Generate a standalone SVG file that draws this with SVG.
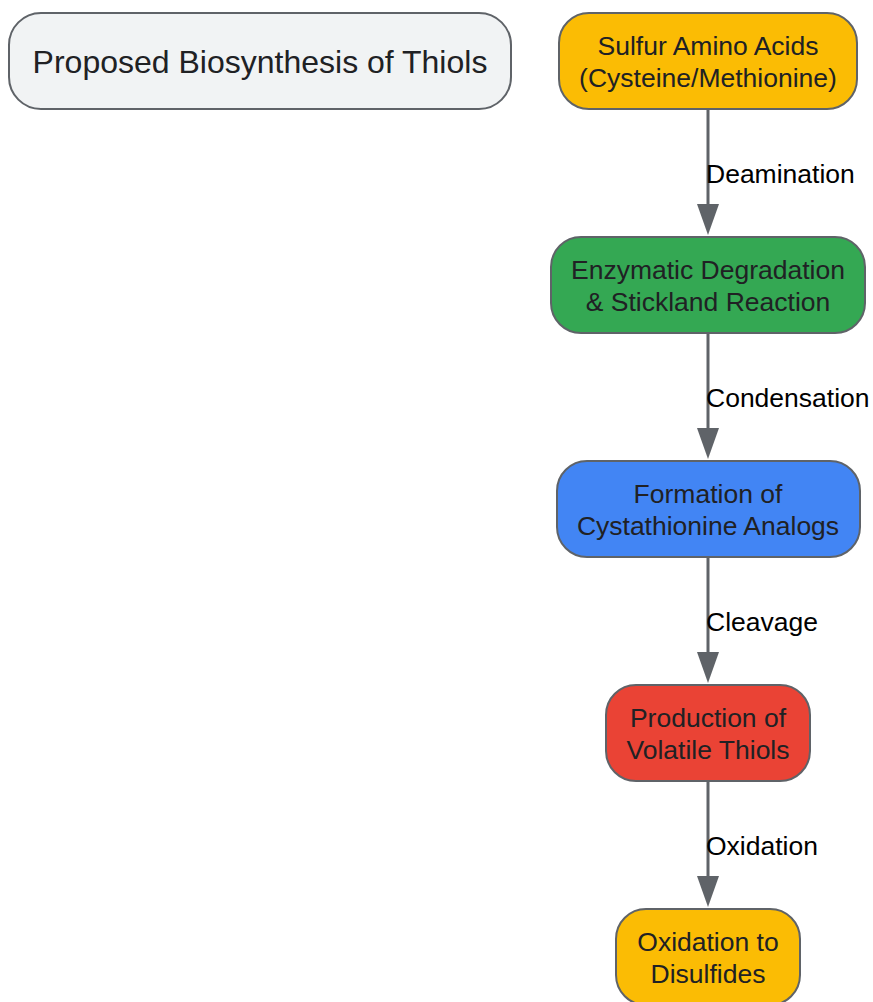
<svg xmlns="http://www.w3.org/2000/svg" width="873" height="1002" viewBox="0 0 873 1002">
<defs>
<style>
.n{stroke:#5f6368;stroke-width:2}
.t{font-family:"Liberation Sans",Arial,sans-serif;font-size:26.5px;fill:#202124;text-anchor:middle}
.l{font-family:"Liberation Sans",Arial,sans-serif;font-size:26.5px;fill:#000}
.c{stroke:#5f6368;stroke-width:3;fill:none}
.a{fill:#5f6368}
</style>
</defs>
<rect width="873" height="1002" fill="#fff"/>
<g id="title">
<rect class="n" x="9" y="13" width="502" height="96" rx="32" fill="#f1f3f4"/>
<text x="260" y="73" font-family="Liberation Sans,Arial,sans-serif" font-size="32" fill="#202124" text-anchor="middle">Proposed Biosynthesis of Thiols</text>
</g>
<g id="connectors">
<line class="c" x1="708" y1="110" x2="708" y2="205"/>
<path class="a" d="M697,204 L719,204 L708,235 Z"/>
<text class="l" x="706" y="183">Deamination</text>
<line class="c" x1="708" y1="334" x2="708" y2="429"/>
<path class="a" d="M697,428 L719,428 L708,459 Z"/>
<text class="l" x="706" y="407">Condensation</text>
<line class="c" x1="708" y1="558" x2="708" y2="653"/>
<path class="a" d="M697,652 L719,652 L708,683 Z"/>
<text class="l" x="706" y="631">Cleavage</text>
<line class="c" x1="708" y1="782" x2="708" y2="877"/>
<path class="a" d="M697,876 L719,876 L708,907 Z"/>
<text class="l" x="706" y="855">Oxidation</text>
</g>
<g id="n1">
<rect class="n" x="559" y="13" width="298" height="96" rx="30" fill="#fbbc04"/>
<text class="t" x="708" y="55">Sulfur Amino Acids</text>
<text class="t" x="708" y="87">(Cysteine/Methionine)</text>
</g>
<g id="n2">
<rect class="n" x="551" y="237" width="314" height="96" rx="30" fill="#34a853"/>
<text class="t" x="708" y="279">Enzymatic Degradation</text>
<text class="t" x="708" y="311">&amp; Stickland Reaction</text>
</g>
<g id="n3">
<rect class="n" x="557" y="461" width="303" height="96" rx="30" fill="#4285f4"/>
<text class="t" x="708" y="503">Formation of</text>
<text class="t" x="708" y="535">Cystathionine Analogs</text>
</g>
<g id="n4">
<rect class="n" x="606" y="685" width="204" height="96" rx="30" fill="#ea4335"/>
<text class="t" x="708" y="727">Production of</text>
<text class="t" x="708" y="759">Volatile Thiols</text>
</g>
<g id="n5">
<rect class="n" x="616" y="909" width="184" height="96" rx="30" fill="#fbbc04"/>
<text class="t" x="708" y="951">Oxidation to</text>
<text class="t" x="708" y="983">Disulfides</text>
</g>
</svg>
